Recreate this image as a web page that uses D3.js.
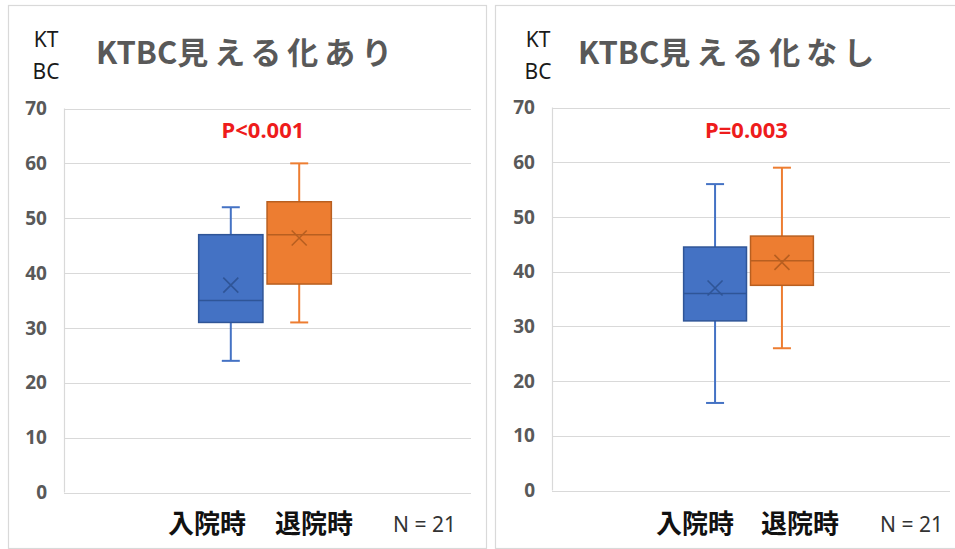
<!DOCTYPE html>
<html>
<head>
<meta charset="utf-8">
<script src="https://cdn.jsdelivr.net/npm/d3@7"></script>
<style>
  html, body { margin: 0; padding: 0; background: #fff; }
  svg { display: block; }
</style>
</head>
<body>
<svg id="chart" width="955" height="549"></svg>
<script>
// Two box plots of KTBC scores at admission (入院時) and discharge (退院時)
const titlePrefix = "KTBC";
const panelTitles = ["見える化あり", "見える化なし"];
const pValues = ["P<0.001", "P=0.003"];
const seriesNames = ["入院時", "退院時"];
const yTicks = [0, 10, 20, 30, 40, 50, 60, 70];
const sampleLabel = "N = 21";

// five-number summaries + mean: [min, q1, median, q3, max, mean]
const withVisual = [
  [24, 31, 35, 47, 52, 37.8],
  [31, 38, 47, 53, 60, 46.4]
];
const withoutVisual = [
  [16, 31, 36, 44.5, 56, 37.0],
  [26, 37.5, 42, 46.5, 59, 41.7]
];
const panelData = [withVisual, withoutVisual];

const fills = ["#4472C4", "#ED7D31"];
const edges = ["#2F5597", "#B85F20"];

const svg = d3.select("#chart");

// frame of each panel and its plot area
const panels = [
  { frame: [8.5, 5.5, 478, 543], plot: [64, 108.5, 471, 492.5], kt: 46,  title: 96,  cat: [168, 275], n: 393 },
  { frame: [495.5, 5.5, 470, 543], plot: [552, 107.5, 950, 490.5], kt: 538, title: 578, cat: [656, 761], n: 880 }
];

panels.forEach((p, i) => {
  const g = svg.append("g");
  const [fx, fy, fw, fh] = p.frame;
  g.append("rect").attr("x", fx).attr("y", fy).attr("width", fw).attr("height", fh)
    .attr("fill", "#fff").attr("stroke", "#d9d9d9").attr("stroke-width", 1.2);

  const [x0, yTop, x1, yBot] = p.plot;
  const y = d3.scaleLinear().domain([0, 70]).range([yBot, yTop]);

  // gridlines
  g.append("g").selectAll("line").data(yTicks).join("line")
    .attr("x1", x0).attr("x2", x1)
    .attr("y1", d => Math.round(y(d)) + 0.5).attr("y2", d => Math.round(y(d)) + 0.5)
    .attr("stroke", "#d9d9d9").attr("stroke-width", 1.2);
  g.append("line").attr("x1", x0 + 0.5).attr("x2", x0 + 0.5).attr("y1", yTop).attr("y2", yBot)
    .attr("stroke", "#d9d9d9").attr("stroke-width", 1.2);

  // y axis labels
  const axis = d3.axisLeft(y).tickValues(yTicks).tickSize(0).tickPadding(17);
  const ag = g.append("g").attr("transform", `translate(${x0},0)`).call(axis);
  ag.select(".domain").remove();
  ag.selectAll("text").attr("font-family", "'Noto Sans', sans-serif").attr("font-weight", 700)
    .attr("font-size", 19).attr("fill", "#595959");

  // box positions: a pair of bands centred in the plot
  const cx = (x0 + x1) / 2 - 2.5;
  const pairW = (x1 - x0) * 0.326;
  const xb = d3.scaleBand().domain(seriesNames).range([cx - pairW / 2, cx + pairW / 2]).paddingInner(0.06);

  panelData[i].forEach((s, k) => {
    const [mn, q1, med, q3, mx, mean] = s;
    const bx = xb(seriesNames[k]);
    const bw = xb.bandwidth();
    const mid = bx + bw / 2;
    const capW = 18;
    const bg = g.append("g");
    // whiskers
    bg.append("line").attr("x1", mid).attr("x2", mid).attr("y1", y(mx)).attr("y2", y(q3))
      .attr("stroke", fills[k]).attr("stroke-width", 2);
    bg.append("line").attr("x1", mid).attr("x2", mid).attr("y1", y(q1)).attr("y2", y(mn))
      .attr("stroke", fills[k]).attr("stroke-width", 2);
    [mx, mn].forEach(v => bg.append("line")
      .attr("x1", mid - capW / 2).attr("x2", mid + capW / 2).attr("y1", y(v)).attr("y2", y(v))
      .attr("stroke", fills[k]).attr("stroke-width", 2));
    // box
    bg.append("rect").attr("x", bx).attr("y", y(q3)).attr("width", bw).attr("height", y(q1) - y(q3))
      .attr("fill", fills[k]).attr("stroke", edges[k]).attr("stroke-width", 1.5);
    // median
    bg.append("line").attr("x1", bx).attr("x2", bx + bw).attr("y1", y(med)).attr("y2", y(med))
      .attr("stroke", edges[k]).attr("stroke-width", 1.5);
    // mean marker
    const m = 7.5;
    bg.append("path")
      .attr("d", `M${mid - m},${y(mean) - m}L${mid + m},${y(mean) + m}M${mid - m},${y(mean) + m}L${mid + m},${y(mean) - m}`)
      .attr("stroke", edges[k]).attr("stroke-width", 1.6).attr("fill", "none");
  });

  // p-value
  g.append("text").attr("x", cx - 2).attr("y", 138).attr("text-anchor", "middle")
    .attr("font-family", "'Noto Sans', sans-serif").attr("font-weight", 700).attr("font-size", 22)
    .attr("fill", "#EE1C1C").text(pValues[i]);

  // KT / BC unit label
  ["KT", "BC"].forEach((t, j) => g.append("text").attr("x", p.kt).attr("y", 47 + j * 32)
    .attr("text-anchor", "middle").attr("font-family", "'Noto Sans', sans-serif")
    .attr("font-size", 21).attr("fill", "#1a1a1a").text(t));

  // title: Latin prefix set tight, Japanese part spaced
  const tt = g.append("text").attr("x", p.title).attr("y", 64)
    .attr("font-family", "'Noto Sans CJK JP', sans-serif").attr("font-weight", 700)
    .attr("font-size", 31).attr("fill", "#595959");
  tt.append("tspan").text(titlePrefix);
  tt.append("tspan").attr("letter-spacing", 6).text(panelTitles[i]);

  // category labels
  seriesNames.forEach((t, k) => g.append("text").attr("x", p.cat[k]).attr("y", 533)
    .attr("font-family", "'Noto Sans CJK JP', sans-serif").attr("font-weight", 700)
    .attr("font-size", 26).attr("fill", "#111").text(t));

  g.append("text").attr("x", p.n).attr("y", 532)
    .attr("font-family", "'Noto Sans', sans-serif").attr("font-size", 21)
    .attr("fill", "#333").text(sampleLabel);
});
</script>
</body>
</html>
